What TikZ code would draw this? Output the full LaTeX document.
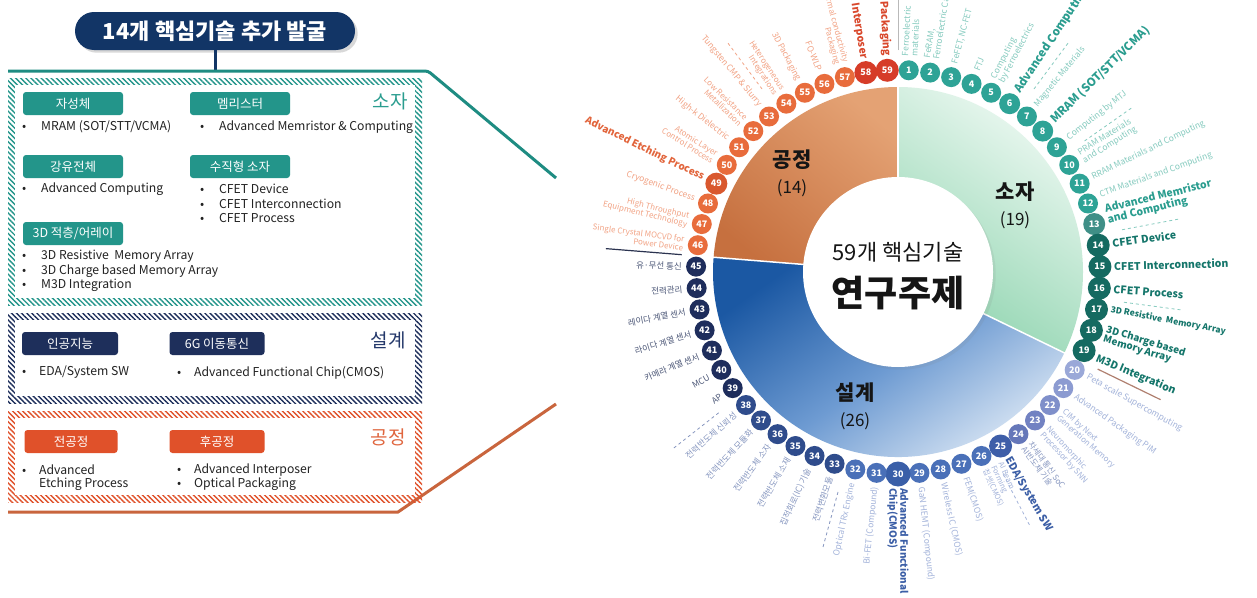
\documentclass[tikz,border=0pt]{standalone}
\usepackage{fontspec}
\setmainfont{Noto Sans CJK KR}
\usetikzlibrary{patterns.meta,shadows}
\definecolor{navyT}{HTML}{123566}
\definecolor{tealM}{HTML}{23958A}
\definecolor{tealLine}{HTML}{1E8C82}
\definecolor{navyP}{HTML}{1E2F5B}
\definecolor{orP}{HTML}{E0512A}
\definecolor{orLine}{HTML}{C9653D}
\definecolor{tealTxt}{HTML}{2A9D8F}
\definecolor{navyTxt}{HTML}{24386A}
\definecolor{orTxt}{HTML}{E0663F}
\definecolor{bodyTxt}{HTML}{222222}
% sectors
\definecolor{gTop}{HTML}{EEF9F3}
\definecolor{gBot}{HTML}{8FD4AF}
\definecolor{bTop}{HTML}{1B58A3}
\definecolor{bMid}{HTML}{6E9BD2}
\definecolor{bBot}{HTML}{E2ECF7}
\definecolor{oTop}{HTML}{E4A274}
\definecolor{oBot}{HTML}{C6703F}
% wheel dots
\definecolor{dTeal}{HTML}{2EA396}
\definecolor{dTealG}{HTML}{3F8F87}
\definecolor{dTealD}{HTML}{156A61}
\definecolor{dB20}{HTML}{9AA8D8}
\definecolor{dB21}{HTML}{8C9BD1}
\definecolor{dB22}{HTML}{7F8FCA}
\definecolor{dB23}{HTML}{7282C2}
\definecolor{dB24}{HTML}{6577B9}
\definecolor{dB25}{HTML}{3E5EA8}
\definecolor{dBM}{HTML}{4A70B8}
\definecolor{dB30}{HTML}{3A5FA8}
\definecolor{dBN}{HTML}{2F4C8C}
\definecolor{dNavy}{HTML}{1E2D5C}
\definecolor{dOr}{HTML}{E86C3C}
\definecolor{dOrD}{HTML}{D9582E}
\definecolor{dRed}{HTML}{D63C28}
% wheel labels
\definecolor{tealL}{HTML}{86CBBF}
\definecolor{tealB}{HTML}{2A9D8F}
\definecolor{tealD}{HTML}{15766B}
\definecolor{blueL}{HTML}{A3B3DA}
\definecolor{blueB}{HTML}{3B5EA6}
\definecolor{korL}{HTML}{8797C0}
\definecolor{korD}{HTML}{4D5878}
\definecolor{orL}{HTML}{F2A486}
\definecolor{orB}{HTML}{E2653C}
\definecolor{redB}{HTML}{D9482C}
\definecolor{sepBrown}{HTML}{B08070}
\definecolor{sepNavy}{HTML}{2B3350}
\definecolor{hubTxt}{HTML}{151515}

\newcommand{\wlab}[4][0]{%
  \pgfmathsetmacro{\wa}{90-(#2-0.5)*6.101695}%
  \pgfmathsetmacro{\wp}{\wa+#1}%
  \ifnum#2<31
    \node[#3, anchor=west, align=left, rotate=\wa] (l#2) at (\wp:216) {#4};%
  \else
    \pgfmathsetmacro{\wb}{\wa+180}%
    \node[#3, anchor=east, align=right, rotate=\wb] (l#2) at (\wp:216) {#4};%
  \fi}

\begin{document}
\begin{tikzpicture}[x=1pt,y=-1pt,
  pill/.style={rounded corners=3pt, minimum width=100pt, minimum height=23pt, inner sep=0pt, text=white, font=\fontsize{12.5}{14}\selectfont},
  item/.style={anchor=west, inner sep=0pt, text=bodyTxt, font=\fontsize{12.2}{13}\selectfont},
  cat/.style={inner sep=0pt, font=\fontsize{19}{21}\selectfont},
  dot/.style={circle, inner sep=0pt, text=white, font=\bfseries\fontsize{9}{9}\selectfont},
  wl/.style={inner sep=0pt, font=\fontsize{8.5}{9.2}\selectfont},
  tL/.style={wl, text=tealL},
  tB/.style={inner sep=0pt, font=\bfseries\fontsize{11.5}{12.5}\selectfont, text=tealB},
  tD/.style={inner sep=0pt, font=\bfseries\fontsize{10.5}{11.5}\selectfont, text=tealD},
  bL/.style={wl, text=blueL},
  bB/.style={inner sep=0pt, font=\bfseries\fontsize{10.5}{11.5}\selectfont, text=blueB},
  kL/.style={wl, text=korL},
  kD/.style={wl, text=korD},
  oL/.style={wl, text=orL},
  oB/.style={inner sep=0pt, font=\bfseries\fontsize{10}{11}\selectfont, text=orB},
  rB/.style={inner sep=0pt, font=\bfseries\fontsize{10.5}{11.5}\selectfont, text=redB},
  hatch/.style={pattern={Lines[angle=-45,distance=3.6pt,line width=1.4pt]}},
  ctr/.style={inner sep=0pt, text=hubTxt}
]
\useasboundingbox (0,0) rectangle (1257,597);
\fill[white] (0,0) rectangle (1257,597);
\clip (0,0) rectangle (1257,597);

% ---------------- left panel ----------------
\node[fill=navyT, rounded corners=19pt, minimum width=280pt, minimum height=38pt, text=white,
      font=\bfseries\fontsize{22}{24}\selectfont, inner sep=0pt, drop shadow={opacity=.3}] (title) at (215,31) {14개 핵심기술 추가 발굴};
\coordinate (tj) at (215,71);
\draw[navyT, line width=3pt] (title.south) -- (tj);

\coordinate (tA) at (8,71);
\coordinate (tB) at (428,71);
\coordinate (tC) at (556,178);
\draw[tealLine, line width=3pt, rounded corners=3pt] (tA) -- (tB) -- (tC);

\coordinate (oA) at (8,512);
\coordinate (oB) at (398,512);
\coordinate (oC) at (556,404);
\draw[orLine, line width=3pt] (oA) -- (oB) -- (oC);

% hatched boxes
\fill[hatch, pattern color=tealM] (8,78) rectangle (422,305);
\fill[white] (15,85) rectangle (415,298);
\fill[hatch, pattern color=navyP] (8,313) rectangle (422,403);
\fill[white] (15,320) rectangle (415,396);
\fill[hatch, pattern color=orP] (8,411) rectangle (422,502);
\fill[white] (15,418) rectangle (415,495);

% 소자 box
\node[cat, text=tealTxt] (c1) at (390,101) {소자};
\node[pill, fill=tealM] (p1) at (73,103.5) {자성체};
\node[pill, fill=tealM] (p2) at (240,103.5) {멤리스터};
\node[pill, fill=tealM] (p3) at (73,166.5) {강유전체};
\node[pill, fill=tealM] (p4) at (240,166.5) {수직형 소자};
\node[pill, fill=tealM] (p5) at (73,233.5) {3D 적층/어레이};
\node[item] (i1) at (22,127) {\makebox[19pt][l]{•}MRAM (SOT/STT/VCMA)};
\node[item] (i2) at (200,127) {\makebox[19pt][l]{•}Advanced Memristor \& Computing};
\node[item] (i3) at (22,189) {\makebox[19pt][l]{•}Advanced Computing};
\node[item] (i4) at (200,189) {\makebox[19pt][l]{•}CFET Device};
\node[item] (i5) at (200,203.5) {\makebox[19pt][l]{•}CFET Interconnection};
\node[item] (i6) at (200,218) {\makebox[19pt][l]{•}CFET Process};
\node[item] (i7) at (22,256.5) {\makebox[19pt][l]{•}3D Resistive\ \ Memory Array};
\node[item] (i8) at (22,271) {\makebox[19pt][l]{•}3D Charge based Memory Array};
\node[item] (i9) at (22,285.5) {\makebox[19pt][l]{•}M3D Integration};

% 설계 box
\node[cat, text=navyTxt] (c2) at (388,340) {설계};
\node[pill, fill=navyP, minimum width=96pt] (p6) at (70,343.5) {인공지능};
\node[pill, fill=navyP, minimum width=95pt] (p7) at (217,343.5) {6G 이동통신};
\node[item] (i10) at (22,372.5) {\makebox[17pt][l]{•}EDA/System SW};
\node[item] (i11) at (177,372.5) {\makebox[17pt][l]{•}Advanced Functional Chip(CMOS)};

% 공정 box
\node[cat, text=orTxt] (c3) at (388,437) {공정};
\node[pill, fill=orP, minimum width=93pt] (p8) at (71,441.5) {전공정};
\node[pill, fill=orP, minimum width=95pt] (p9) at (217,441.5) {후공정};
\node[item] (i12) at (22,470) {\makebox[17pt][l]{•}Advanced};
\node[item] (i13) at (39,484.5) {Etching Process};
\node[item] (i14) at (177,470) {\makebox[17pt][l]{•}Advanced Interposer};
\node[item] (i15) at (177,484.5) {\makebox[17pt][l]{•}Optical Packaging};

% ---------------- wheel ----------------
\begin{scope}[shift={(898,272)}, y=1pt]
  % sectors
  \shade[top color=gTop, bottom color=gBot, shading angle=-35]
     (0,0) -- (90:185) arc[start angle=90, end angle=-25.932, radius=185] -- cycle;
  \shade[top color=bTop, bottom color=bBot, middle color=bMid, shading angle=35]
     (0,0) -- (-25.932:185) arc[start angle=-25.932, end angle=-184.576, radius=185] -- cycle;
  \shade[top color=oTop, bottom color=oBot, shading angle=-40]
     (0,0) -- (-184.576:185) arc[start angle=-184.576, end angle=-270, radius=185] -- cycle;
  \foreach \b in {90,-25.932,-184.576} \draw[white, line width=1.5pt] (0,0) -- (\b:186);
  \node[circle, fill=white, minimum size=190pt, inner sep=0pt, drop shadow={opacity=.12}] (hub) at (0,0) {};
  \node[ctr, font=\fontsize{22}{24}\selectfont] (h1) at (0,20) {59개 핵심기술};
  \node[ctr, font=\bfseries\fontsize{36}{38}\selectfont] (h2) at (0,-21) {연구주제};
  \node[ctr, font=\bfseries\fontsize{21}{23}\selectfont] (s1) at (-106,112) {공정};
  \node[ctr, font=\fontsize{17}{19}\selectfont] (s1n) at (-106,84) {(14)};
  \node[ctr, font=\bfseries\fontsize{21}{23}\selectfont] (s2) at (117,80) {소자};
  \node[ctr, font=\fontsize{17}{19}\selectfont] (s2n) at (117,52) {(19)};
  \node[ctr, font=\bfseries\fontsize{21}{23}\selectfont] (s3) at (-43,-121) {설계};
  \node[ctr, font=\fontsize{17}{19}\selectfont] (s3n) at (-43,-149) {(26)};

  % separators
  \draw[gray!55, line width=1pt] (90:222) -- (90:300);
  \draw[sepBrown, line width=1.2pt] (-25.932:222) -- (-25.932:292);
  \draw[sepNavy, line width=1.2pt] (-184.576:217) -- (-184.576:293);
  \foreach \k/\c in {6/tealL,9/tealL,13/tealL,16/tealL,25/blueL,32/korL,38/korL,53/orL}
    \draw[\c, dash pattern=on 3pt off 3pt, line width=0.8pt] ({90-\k*6.101695}:228) -- ({90-\k*6.101695}:288);

  % dots
  \foreach \n/\c/\s in {1/dTeal/20,2/dTeal/20,3/dTeal/20,4/dTeal/20,5/dTeal/20,6/dTeal/21,7/dTeal/20,8/dTeal/21,
      9/dTeal/20,10/dTeal/20,11/dTeal/20,12/dTeal/20,13/dTealG/22,14/dTealD/23,15/dTealD/23,16/dTealD/23,
      17/dTealD/23,18/dTealD/23,19/dTealD/23,20/dB20/20,21/dB21/20,22/dB22/20,23/dB23/20,24/dB24/20,25/dB25/23,
      26/dBM/20,27/dBM/20,28/dBM/20,29/dBM/20,30/dB30/25,31/dBM/20,32/dBM/20,33/dBN/20,34/dBN/20,35/dBN/20,
      36/dBN/20,37/dBN/20,38/dBN/20,39/dNavy/20,40/dNavy/20,41/dNavy/20,42/dNavy/20,43/dNavy/20,44/dNavy/20,
      45/dNavy/20,46/dOr/20,47/dOr/20,48/dOr/20,49/dOrD/22,50/dOr/20,51/dOr/20,52/dOr/20,53/dOr/20,54/dOr/20,
      55/dOr/20,56/dOr/20,57/dOr/20,58/dRed/23,59/dRed/23}
  {
    \pgfmathsetmacro{\da}{90-(\n-0.5)*6.101695}
    \node[dot, fill=\c, minimum size=\s pt] (d\n) at (\da:202) {\n};
  }

  % labels
  \wlab{1}{tL}{Ferroelectric\\materials}
  \wlab{2}{tL}{FeRAM,\\Ferroelectric Capacitor}
  \wlab{3}{tL}{FeFET, NC-FET}
  \wlab{4}{tL}{FTJ}
  \wlab{5}{tL}{Computing\\by Ferroelectrics}
  \wlab{6}{tB}{Advanced Computing}
  \wlab{7}{tL}{Magnetic Materials}
  \wlab{8}{tB}{MRAM (SOT/STT/VCMA)}
  \wlab{9}{tL}{Computing by MTJ}
  \wlab{10}{tL}{PRAM Materials\\and Computing}
  \wlab{11}{tL}{RRAM Materials and Computing}
  \wlab[1]{12}{tL}{CTM Materials and Computing}
  \wlab[1.6]{13}{tB, font=\bfseries\fontsize{10.5}{11}\selectfont}{Advanced Memristor\\and Computing}
  \wlab{14}{tD}{CFET Device}
  \wlab{15}{tD}{CFET Interconnection}
  \wlab{16}{tD}{CFET Process}
  \wlab[0.6]{17}{tD, font=\bfseries\fontsize{8.5}{9}\selectfont}{3D Resistive\ \ Memory Array}
  \wlab{18}{tD, font=\bfseries\fontsize{9.8}{10}\selectfont}{3D Charge based\\Memory Array}
  \wlab[-0.6]{19}{tD}{M3D Integration}
  \wlab{20}{bL}{Peta scale Supercomputing}
  \wlab{21}{bL}{Advanced Packaging PIM}
  \wlab{22}{bL, font=\fontsize{8}{8.6}\selectfont}{CIM by Next\\Generation Memory}
  \wlab{23}{bL, font=\fontsize{8}{8.6}\selectfont}{Neuromorphic\\Processor by SNN}
  \wlab{24}{kL, font=\fontsize{8}{8.6}\selectfont}{차세대 통신 SoC\\AI반도체 기술}
  \wlab{25}{bB}{EDA/System SW}
  \wlab[1.5]{26}{bL, font=\fontsize{7.5}{8}\selectfont}{AI Beam\\Forming\\칩셋(CMOS)}
  \wlab{27}{bL}{FEM(CMOS)}
  \wlab{28}{bL}{Wireless IC (CMOS)}
  \wlab{29}{bL}{GaN HEMT (Compound)}
  \wlab{30}{bB, font=\bfseries\fontsize{10}{11}\selectfont}{Advanced Functional\\Chip(CMOS)}
  \wlab{31}{bL}{Bi-FET (Compound)}
  \wlab{32}{bL}{Optical TRx Engine}
  \wlab{33}{kL}{전력변환모듈}
  \wlab{34}{kL}{집적회로(IC) 기술}
  \wlab{35}{kL}{전력반도체 소재}
  \wlab{36}{kL}{전력반도체 소자}
  \wlab{37}{kL}{전력반도체 모듈화}
  \wlab{38}{kL}{전력반도체 신뢰성}
  \wlab{39}{kD}{AP}
  \wlab{40}{kD}{MCU}
  \wlab{41}{kD}{카메라 계열 센서}
  \wlab{42}{kD}{라이다 계열 센서}
  \wlab{43}{kD}{레이다 계열 센서}
  \wlab{44}{kD}{전력관리}
  \wlab{45}{kD}{유·무선 통신}
  \wlab{46}{oL, font=\fontsize{8}{8.6}\selectfont}{Single Crystal MOCVD for\\Power Device}
  \wlab{47}{oL, font=\fontsize{8}{8.6}\selectfont}{High Throughput\\Equipment Technology}
  \wlab{48}{oL}{Cryogenic Process}
  \wlab{49}{oB}{Advanced Etching Process}
  \wlab{50}{oL, font=\fontsize{8}{8.6}\selectfont}{Atomic Layer\\Control Process}
  \wlab{51}{oL}{High-k Dielectric}
  \wlab{52}{oL, font=\fontsize{8}{8.6}\selectfont}{Low Resistance\\Metallization}
  \wlab{53}{oL}{Tungsten CMP \& Slurry}
  \wlab{54}{oL, font=\fontsize{8}{8.6}\selectfont}{Heterogeneous\\Integrations}
  \wlab{55}{oL}{3D Packaging}
  \wlab{56}{oL}{FO-WLP}
  \wlab{57}{oL, font=\fontsize{8}{8.6}\selectfont}{Thermal conductivity\\Packaging}
  \wlab{58}{rB}{Advanced Interposer}
  \wlab{59}{rB}{Optical Packaging}
\end{scope}
\end{tikzpicture}
\end{document}
